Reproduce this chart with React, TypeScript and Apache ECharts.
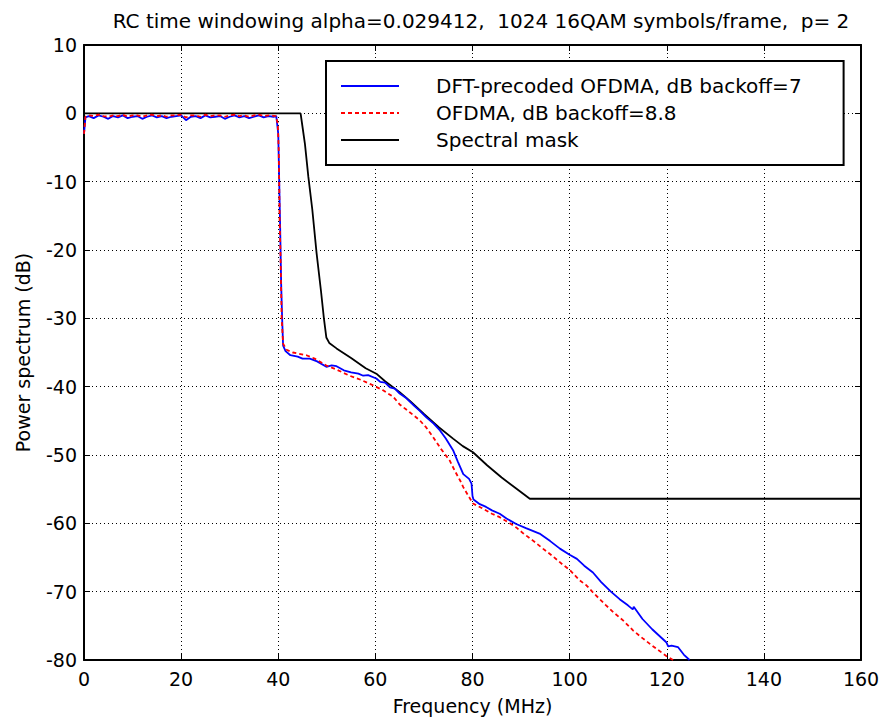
import React, { useEffect, useRef } from "react";
import * as echarts from "echarts";

const titleText = "RC time windowing alpha=0.029412,  1024 16QAM symbols/frame,  p= 2";
const xName = "Frequency (MHz)";
const yName = "Power spectrum (dB)";
const seriesNames = ["DFT-precoded OFDMA, dB backoff=7", "OFDMA, dB backoff=8.8", "Spectral mask"];

const dftOfdma: [number, number][] = [
  [0, -3], [0.3, -0.6], [1, -0.4], [2, -0.7], [3, -0.3], [4, -0.5], [5, -0.8], [6, -0.4], [7, -0.6],
  [8, -0.3], [9, -0.7], [10, -0.5], [11, -0.4], [12, -0.8], [13, -0.5], [14, -0.3], [15, -0.6],
  [16, -0.4], [17, -0.7], [18, -0.5], [19, -0.4], [20, -0.3], [21, -1.0], [22, -0.5], [23, -0.4],
  [24, -0.7], [25, -0.3], [26, -0.6], [27, -0.5], [28, -0.4], [29, -0.8], [30, -0.5], [31, -0.3],
  [32, -0.6], [33, -0.4], [34, -0.7], [35, -0.5], [36, -0.3], [37, -0.6], [38, -0.4], [39, -0.5],
  [39.6, -0.4], [40, -3], [40.2, -10], [40.4, -17], [40.6, -25], [40.8, -30], [41, -34],
  [41.5, -34.8], [42.5, -35.4], [44, -35.6], [45, -35.9], [46.5, -35.9], [48, -36.3], [49.9, -37.1],
  [51, -36.9], [52, -37], [53.5, -37.6], [55, -37.9], [56.5, -38.1], [57.5, -38.4], [58.5, -38.3],
  [60.2, -38.8], [61, -39.3], [62, -39.4], [63, -40.1], [64, -40.3], [65, -41], [66.4, -41.7],
  [68, -42.8], [69.1, -43.5], [70.5, -44.5], [72, -45.4], [73.3, -46.4], [74.5, -47.6], [76, -49.3],
  [77, -51], [78.1, -52.8], [79.3, -53.5], [79.8, -54.2], [80, -56], [80.2, -56.5], [81.5, -57.2],
  [82.8, -57.6], [84, -58.1], [85.6, -58.6], [87, -59.3], [89, -60.1], [91, -60.7], [93.8, -61.5],
  [96, -62.6], [98, -63.7], [100, -64.6], [101.5, -65.2], [103, -66.2], [104.8, -67.2], [106.5, -68.6],
  [108.5, -70], [110.3, -71.1], [112, -72], [113, -72.6], [113.2, -72.2], [115, -74], [117, -75.5],
  [119.9, -77.4], [120.3, -78], [121, -77.9], [122.3, -78.1], [123.5, -79.2], [124.7, -80],
];

const ofdma: [number, number][] = [
  [0, -3], [0.3, -0.5], [1, -0.3], [2, -0.4], [3, -0.2], [4, -0.4], [5, -0.5], [6, -0.3], [7, -0.4],
  [8, -0.2], [9, -0.5], [10, -0.3], [11, -0.3], [12, -0.5], [13, -0.3], [14, -0.2], [15, -0.4],
  [16, -0.3], [17, -0.5], [18, -0.3], [19, -0.3], [20, -0.2], [21, -0.6], [22, -0.3], [23, -0.3],
  [24, -0.5], [25, -0.2], [26, -0.4], [27, -0.3], [28, -0.3], [29, -0.5], [30, -0.3], [31, -0.2],
  [32, -0.4], [33, -0.3], [34, -0.5], [35, -0.3], [36, -0.2], [37, -0.4], [38, -0.3], [39.5, -0.4],
  [39.9, -1.5], [40.1, -5.4], [40.3, -16], [40.5, -22], [40.7, -30], [41, -33.7], [41.7, -34.6],
  [43, -35], [45.8, -35.4], [47.5, -35.9], [49.9, -36.9], [52, -37.5], [54.7, -38.4], [57, -39],
  [59.5, -39.8], [61.5, -40.5], [63.7, -41.5], [65, -42.6], [67, -43.7], [69.1, -44.9], [70.5, -46],
  [71.9, -47.4], [73.5, -49.1], [75.3, -50.8], [76.5, -52.5], [77.5, -53.8], [78.1, -54.7], [79, -55.8],
  [80.1, -57.1], [82, -57.8], [84, -58.6], [85.6, -59.1], [87.5, -59.9], [89, -60.6], [90.5, -61.5],
  [92.4, -62.5], [94.5, -63.7], [96.5, -64.8], [98.5, -66], [100, -66.8], [102, -68.3], [103.5, -69.1],
  [104.8, -70.1], [106.2, -71.1], [107.5, -72], [109, -73], [111, -74.2], [113.1, -75.7], [115, -76.8],
  [117, -77.9], [119.9, -79.4], [121.3, -80],
];

const spectralMask: [number, number][] = [
  [0, 0], [44.6, 0], [45, -2], [45.5, -4.5], [46.2, -9.3], [47, -14], [47.9, -20.5], [48.8, -26],
  [49.4, -30], [49.9, -32.8], [50.5, -33.6], [52, -34.4], [55, -35.8], [58, -37.3], [60.2, -38.1],
  [62, -39.2], [65, -40.8], [67, -42], [70, -44], [73, -45.9], [76, -47.6], [78, -48.7], [80.1, -49.6],
  [83, -51.5], [86, -53.3], [89, -54.9], [91.8, -56.4], [160, -56.4],
];

const xTicks = { min: 0, max: 160, interval: 20 };
const yTicks = { min: -80, max: 10, interval: 10 };

const FONT = "DejaVu Sans, Liberation Sans, Arial, sans-serif";

export default function App() {
  const ref = useRef<HTMLDivElement>(null);
  useEffect(() => {
    if (!ref.current) return;
    const chart = echarts.init(ref.current, null, { renderer: "svg" });
    const gridLine = { show: true, lineStyle: { color: "#000", width: 1, type: [1, 3] as any } };
    const axisLine = { show: true, onZero: false, lineStyle: { color: "#000", width: 2 } };
    const tick = { show: true, inside: true, length: 6, lineStyle: { color: "#000", width: 1 } };
    chart.setOption({
      animation: false,
      backgroundColor: "#fff",
      textStyle: { fontFamily: FONT },
      title: {
        text: titleText,
        left: 476,
        textAlign: "center",
        top: 6,
        textStyle: { fontFamily: FONT, fontSize: 20, fontWeight: "normal", color: "#000" },
      },
      grid: { left: 84, right: 22, top: 45, bottom: 64, containLabel: false },
      legend: {
        orient: "vertical",
        left: 326,
        top: 61,
        data: seriesNames,
        padding: [15, 42, 15, 14],
        itemGap: 7,
        itemWidth: 58,
        itemHeight: 18,
        itemStyle: { opacity: 0 },
        backgroundColor: "#fff",
        borderColor: "#000",
        borderWidth: 2,
        borderRadius: 0,
        textStyle: { fontFamily: FONT, fontSize: 20, color: "#000", padding: [0, 0, 0, 32] },
      },
      xAxis: [
        {
          type: "value",
          ...xTicks,
          name: xName,
          nameLocation: "middle",
          nameGap: 36,
          nameTextStyle: { fontFamily: FONT, fontSize: 19, color: "#000" },
          axisLine,
          axisTick: tick,
          axisLabel: { fontFamily: FONT, fontSize: 19, color: "#000", margin: 9 },
          splitLine: gridLine,
        },
        {
          type: "value",
          position: "top",
          ...xTicks,
          axisLine,
          axisTick: tick,
          axisLabel: { show: false },
          splitLine: { show: false },
        },
      ],
      yAxis: [
        {
          type: "value",
          ...yTicks,
          name: yName,
          nameLocation: "middle",
          nameGap: 52,
          nameTextStyle: { fontFamily: FONT, fontSize: 19, color: "#000" },
          axisLine,
          axisTick: tick,
          axisLabel: { fontFamily: FONT, fontSize: 19, color: "#000", margin: 7 },
          splitLine: gridLine,
        },
        {
          type: "value",
          position: "right",
          ...yTicks,
          axisLine,
          axisTick: tick,
          axisLabel: { show: false },
          splitLine: { show: false },
        },
      ],
      series: [
        {
          name: seriesNames[0],
          type: "line",
          data: dftOfdma,
          showSymbol: false,
          symbol: "none",
          lineStyle: { color: "#0000ff", width: 1.8 },
          itemStyle: { color: "#0000ff" },
          z: 3,
        },
        {
          name: seriesNames[1],
          type: "line",
          data: ofdma,
          showSymbol: false,
          symbol: "none",
          lineStyle: { color: "#ff0000", width: 1.8, type: [4, 3] as any },
          itemStyle: { color: "#ff0000" },
          z: 4,
        },
        {
          name: seriesNames[2],
          type: "line",
          data: spectralMask,
          showSymbol: false,
          symbol: "none",
          lineStyle: { color: "#000", width: 1.8 },
          itemStyle: { color: "#000" },
          z: 2,
        },
      ],
    });
    return () => chart.dispose();
  }, []);
  return <div ref={ref} style={{ width: 883, height: 724, position: "absolute", left: 0, top: 0 }} />;
}
